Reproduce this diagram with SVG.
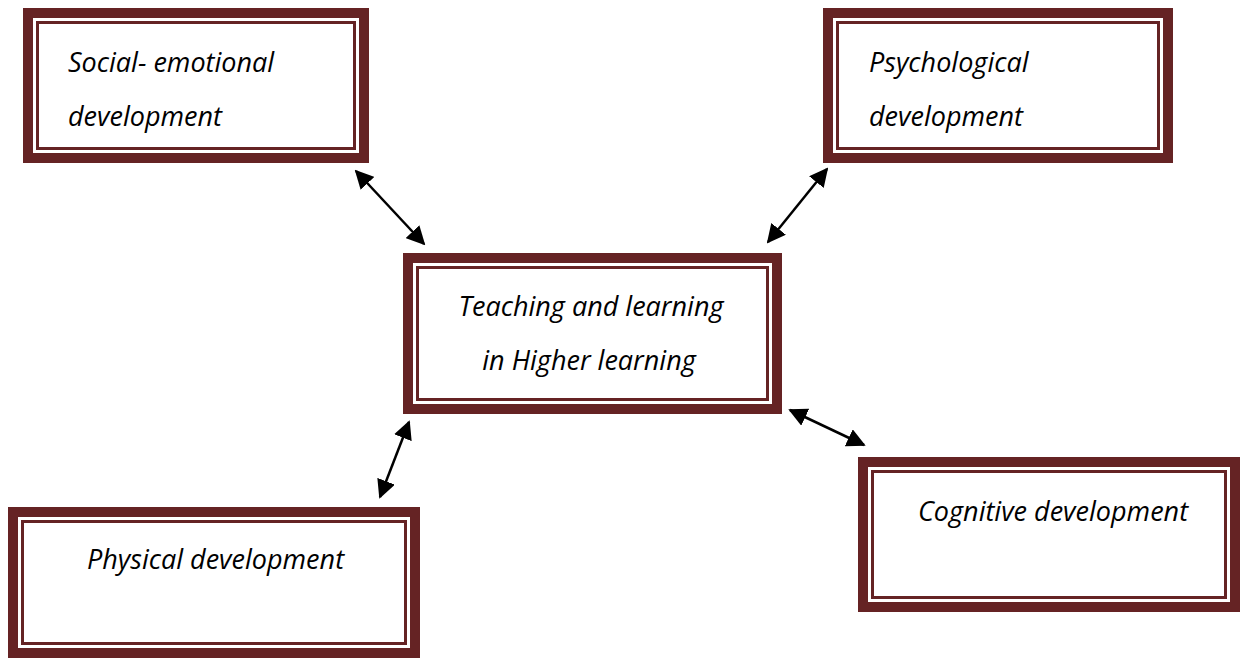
<svg xmlns="http://www.w3.org/2000/svg" width="1241" height="658" viewBox="0 0 1241 658">
<style>
.outer{fill:#fff;stroke:#652324;stroke-width:10}
.inner{fill:none;stroke:#652324;stroke-width:3}
.t{font-family:"Open Sans","Noto Sans",sans-serif;font-style:italic;font-size:27px;fill:#000}
.c{stroke:#000;stroke-width:2.5;fill:none;marker-start:url(#ah);marker-end:url(#ah)}
</style>
<defs>
<marker id="ah" viewBox="0 0 10 10" refX="9" refY="5" markerWidth="7.5" markerHeight="7.5" orient="auto-start-reverse" markerUnits="strokeWidth">
<path d="M0,0 L10,5 L0,10 z" fill="#000"/>
</marker>
</defs>
<g id="n-social">
<rect class="outer" x="28" y="13" width="336" height="145"/>
<rect class="inner" x="37.5" y="22.5" width="317" height="126"/>
<text class="t" x="68" y="72">Social- emotional</text>
<text class="t" x="68" y="126">development</text>
</g>
<g id="n-psych">
<rect class="outer" x="828" y="13" width="340" height="145"/>
<rect class="inner" x="837.5" y="22.5" width="321" height="126"/>
<text class="t" x="869" y="72">Psychological</text>
<text class="t" x="869" y="126">development</text>
</g>
<g id="n-center">
<rect class="outer" x="408" y="258" width="369" height="151"/>
<rect class="inner" x="417.5" y="267.5" width="350" height="132"/>
<text class="t" x="591" y="316" text-anchor="middle">Teaching and learning</text>
<text class="t" x="589" y="370" text-anchor="middle">in Higher learning</text>
</g>
<g id="n-physical">
<rect class="outer" x="13" y="512" width="402" height="141"/>
<rect class="inner" x="22.5" y="521.5" width="383" height="122"/>
<text class="t" x="87" y="569">Physical development</text>
</g>
<g id="n-cognitive">
<rect class="outer" x="863" y="462" width="372" height="145"/>
<rect class="inner" x="872.5" y="471.5" width="353" height="126"/>
<text class="t" x="918" y="521">Cognitive development</text>
</g>
<g id="connectors">
<line class="c" x1="356" y1="171" x2="424" y2="244"/>
<line class="c" x1="827" y1="169" x2="768" y2="242"/>
<line class="c" x1="409" y1="422" x2="380" y2="497"/>
<line class="c" x1="790" y1="410" x2="864" y2="445"/>
</g>
</svg>
